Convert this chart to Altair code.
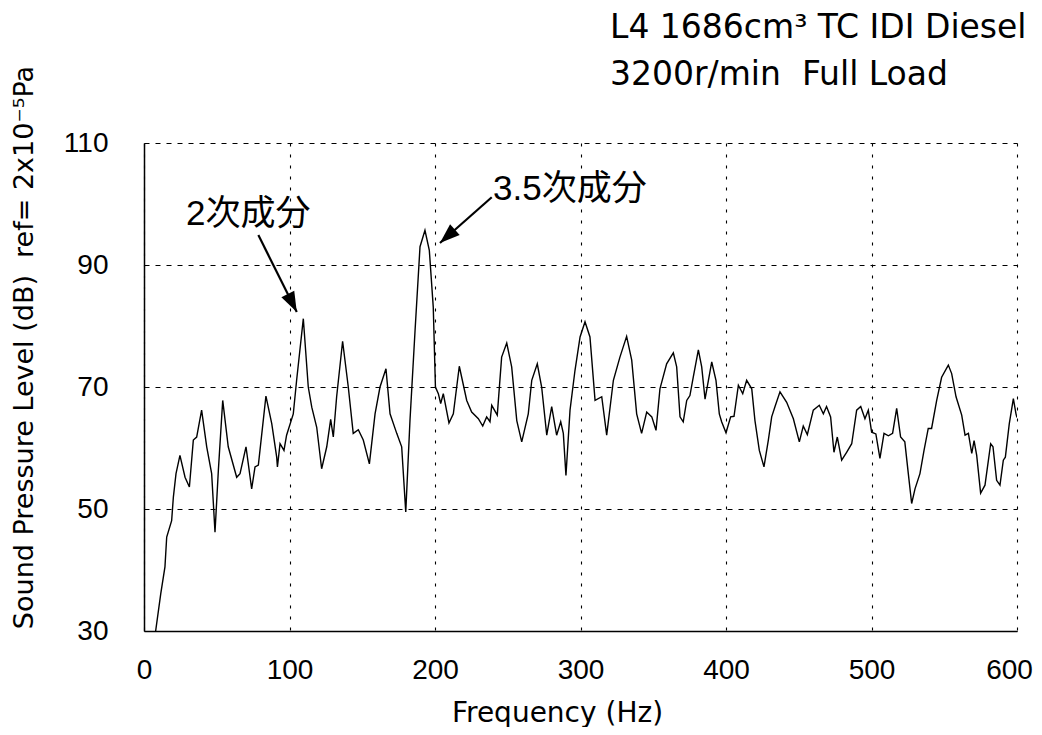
import altair as alt
import pandas as pd

# ---- spectrum ----
freq = [8, 11.5, 14.4, 15.6, 19.0, 20.2, 22.0, 24.7, 28.2, 31.2, 33.9, 36.2, 39.6, 43.1, 46.5, 48.8,
        51.1, 54.1, 57.9, 63.7, 66.0, 70.1, 74.0, 76.3, 78.6, 83.8, 87.8, 91.2, 91.7, 93.5, 96.2,
        98.0, 102.6, 104.9, 109.5, 112.9, 115.3, 118.7, 122.1, 125.6, 128.3, 130.1, 132.4, 136.5,
        140.4, 143.8, 147.3, 150.7, 154.9, 158.8, 162.2, 166.3, 169.1, 173.7, 177.1, 179.9, 182.8,
        186.3, 189.7, 193.1, 196.1, 198.8, 200.3, 202.3, 203.9, 205.7, 209.6, 212.6, 216.7, 221.8,
        225.2, 229.8, 232.8, 235.5, 237.8, 239.0, 242.8, 245.8, 249.3, 252.7, 256.2, 259.6, 264.1,
        266.5, 270.3, 273.3, 276.8, 280.2, 283.6, 286.4, 288.2, 290.0, 292.8, 296.2, 299.7, 303.1,
        306.5, 310.0, 314.6, 318.0, 322.6, 327.1, 331.7, 335.2, 338.6, 342.0, 345.5, 349.0, 351.9,
        354.6, 359.2, 363.8, 366.1, 368.4, 370.6, 373.0, 375.2, 377.5, 381.0, 383.3, 385.6, 390.2,
        393.1, 395.4, 397.0, 400.0, 403.2, 405.5, 408.5, 411.5, 414.2, 417.7, 419.9, 422.9, 426.1,
        429.1, 431.4, 433.7, 437.1, 441.7, 446.3, 450.4, 453.1, 455.9, 460.0, 464.1, 466.9, 469.1,
        471.9, 474.2, 476.5, 479.5, 482.9, 486.4, 489.8, 492.6, 495.5, 497.8, 500.1, 503.0, 505.8,
        508.6, 511.6, 514.5, 517.3, 520.0, 522.9, 525.3, 527.6, 529.9, 533.3, 536.1, 539.0, 541.3,
        544.8, 548.2, 552.8, 555.1, 558.1, 562.0, 564.3, 566.6, 568.9, 570.5, 572.3, 575.0, 578.0,
        581.9, 583.5, 586.0, 588.3, 590.6, 592.0, 594.7, 597.5, 599.3, 600.0]
spl = [30.0, 36.1, 40.5, 45.4, 48.1, 52.0, 55.8, 58.8, 55.2, 53.6, 61.3, 61.8, 66.2, 60.2, 55.8, 46.2,
       56.3, 67.8, 60.2, 55.2, 55.8, 60.2, 53.3, 56.9, 57.2, 68.5, 64.0, 58.5, 56.9, 60.7, 59.6,
       62.1, 65.6, 71.1, 81.2, 70.0, 66.7, 63.4, 56.6, 60.2, 64.7, 61.8, 68.4, 77.5,
       70.0, 62.4, 63.0, 61.3, 57.4, 65.6, 70.0, 73.0, 65.6, 62.4, 60.2, 49.5, 64.5,
       79.3, 93.0, 95.7, 92.4, 83.1, 70.0, 68.9, 67.3, 68.9, 64.1, 65.6, 73.4, 67.8,
       65.9, 64.8, 63.6, 65.1, 64.3, 67.0, 65.4, 74.9, 77.2, 73.3, 64.5, 61.0, 65.6,
       71.1, 73.8, 70.0, 62.1, 66.8, 62.1, 64.3, 62.4, 55.5, 66.2, 72.7, 78.2, 80.7,
       78.2, 67.8, 68.4, 62.1, 71.1, 74.9, 78.3, 74.4, 65.6, 62.4, 65.9, 65.1, 62.9,
       69.7, 73.8, 75.6, 73.3, 65.1, 64.3, 67.8, 68.6, 71.6, 76.1, 73.3, 68.0, 74.1,
       71.1, 65.6, 64.3, 62.5, 65.1, 65.2, 70.3, 68.9, 71.1, 69.7, 64.5, 59.6, 56.9,
       61.3, 65.1, 66.8, 69.2, 67.5, 64.8, 61.0, 63.6, 62.2, 66.2, 67.0, 65.6, 66.8,
       65.1, 59.3, 61.8, 58.0, 59.3, 60.7, 66.2, 66.8, 64.8, 66.2, 62.6, 62.3, 58.3,
       62.4, 62.0, 62.4, 66.5, 61.8, 61.0, 55.8, 50.9, 53.3, 55.8, 59.6, 63.2, 63.2,
       67.8, 71.6, 73.6, 72.2, 68.4, 65.4, 62.1, 62.4, 59.1, 61.2, 58.8, 52.6, 53.9,
       60.7, 60.2, 54.7, 53.9, 58.0, 58.5, 64.0, 68.1, 65.6, 65.0]

x_ticks = [0, 100, 200, 300, 400, 500, 600]
y_ticks = [30, 50, 70, 90, 110]

title_line1 = "L4 1686cm³ TC IDI Diesel"
title_line2 = "3200r/min\u00a0 Full Load"

ann_text = ["2次成分", "3.5次成分"]
ann_f = [28.9, 239.9]
ann_db = [98.3, 102.5]

arrow_f = [78.6, 239.0]
arrow_db = [94.9, 101.1]
arrow_f2 = [105.0, 203.4]
arrow_db2 = [82.3, 93.6]
arrow_angle = [153.4, 228.3]

df = pd.DataFrame({"f": freq, "db": spl})
ann = pd.DataFrame({"t": ann_text, "f": ann_f, "db": ann_db})
arr = pd.DataFrame({"f": arrow_f, "db": arrow_db, "f2": arrow_f2, "db2": arrow_db2, "ang": arrow_angle})

xs = alt.Scale(domain=[0, 600], nice=False, zero=False)
ys = alt.Scale(domain=[30, 110], nice=False, zero=False)

x_axis = alt.Axis(values=x_ticks, title="Frequency (Hz)", labelPadding=25, labelFlush=False,
                  labelOffset={"expr": "datum.value == 600 ? -8 : 0"},
                  gridDash=[3, 8], titleX=413, titleY=90, titleAlign="center",
                  titleBaseline="alphabetic", titleFontSize=28)
y_axis = alt.Axis(values=y_ticks, title="Sound Pressure Level (dB)\u00a0 ref= 2x10⁻⁵Pa",
                  labelPadding=36, labelFlush=False, gridDash=[5, 6], titleAngle=270,
                  titleX=-120, titleY=204, titleAlign="center", titleBaseline="middle",
                  titleFontSize=27)

line = alt.Chart(df).mark_line(color="black", strokeWidth=1.4, clip=True).encode(
    x=alt.X("f:Q", scale=xs, axis=x_axis),
    y=alt.Y("db:Q", scale=ys, axis=y_axis),
)

shafts = alt.Chart(arr).mark_rule(color="black", strokeWidth=2.2).encode(
    x=alt.X("f:Q", scale=xs), y=alt.Y("db:Q", scale=ys),
    x2="f2:Q", y2="db2:Q",
)

heads = alt.Chart(arr).mark_point(
    shape="M0,0 L-0.36,1 L0.36,1 Z", filled=True, color="black", opacity=1, size=1600
).encode(
    x=alt.X("f2:Q", scale=xs), y=alt.Y("db2:Q", scale=ys),
    angle=alt.Angle("ang:Q", scale=None),
)

labels = alt.Chart(ann).mark_text(
    align="left", baseline="middle", fontSize=35, color="black",
    font="Liberation Sans, Noto Sans CJK JP",
).encode(x=alt.X("f:Q", scale=xs), y=alt.Y("db:Q", scale=ys), text="t:N")

t1 = alt.Chart(pd.DataFrame({"t": [title_line1]})).mark_text(
    align="left", baseline="alphabetic", fontSize=33, color="black", font="DejaVu Sans",
).encode(x=alt.value(466), y=alt.value(-105), text="t:N")

t2 = alt.Chart(pd.DataFrame({"t": [title_line2]})).mark_text(
    align="left", baseline="alphabetic", fontSize=33, color="black", font="DejaVu Sans",
).encode(x=alt.value(466), y=alt.value(-58), text="t:N")

chart = alt.layer(line, shafts, heads, labels, t1, t2).properties(
    width=873, height=488,
    padding={"left": 136, "top": 135, "right": 17, "bottom": 96},
    autosize=alt.AutoSizeParams(type="none"),
).configure_view(stroke=None).configure_axis(
    labelFont="Liberation Sans", labelFontSize=28, labelColor="black",
    ticks=False, tickSize=0,
    domainColor="black", domainWidth=1.5,
    grid=True, gridColor="black", gridWidth=1.1, gridOpacity=1,
    titleFont="DejaVu Sans", titleFontWeight="normal", titleColor="black",
)

chart.save("out.html", embed_options={"renderer": "svg", "actions": False})
